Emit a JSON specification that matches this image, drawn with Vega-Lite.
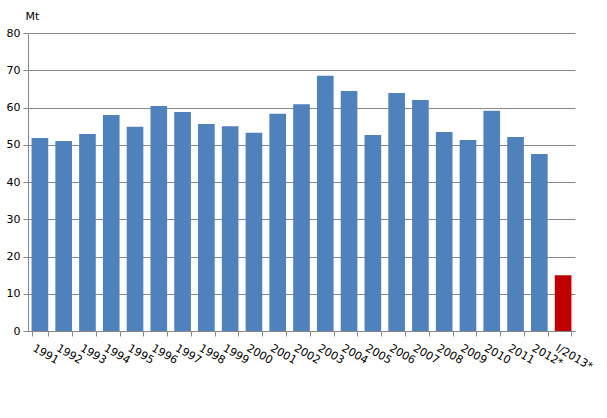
{
  "$schema": "https://vega.github.io/schema/vega-lite/v6.json",
  "autosize": "none",
  "width": 547,
  "height": 298,
  "padding": {"left": 28, "top": 33, "right": 32, "bottom": 87},
  "background": "white",
  "config": {
    "font": "DejaVu Sans",
    "view": {"stroke": null}
  },
  "data": {
    "values": [
      {"year": "1991", "value": 51.8, "type": "year"},
      {"year": "1992", "value": 51.0, "type": "year"},
      {"year": "1993", "value": 52.9, "type": "year"},
      {"year": "1994", "value": 58.0, "type": "year"},
      {"year": "1995", "value": 54.8, "type": "year"},
      {"year": "1996", "value": 60.4, "type": "year"},
      {"year": "1997", "value": 58.8, "type": "year"},
      {"year": "1998", "value": 55.6, "type": "year"},
      {"year": "1999", "value": 55.0, "type": "year"},
      {"year": "2000", "value": 53.2, "type": "year"},
      {"year": "2001", "value": 58.3, "type": "year"},
      {"year": "2002", "value": 60.9, "type": "year"},
      {"year": "2003", "value": 68.5, "type": "year"},
      {"year": "2004", "value": 64.4, "type": "year"},
      {"year": "2005", "value": 52.6, "type": "year"},
      {"year": "2006", "value": 63.9, "type": "year"},
      {"year": "2007", "value": 62.0, "type": "year"},
      {"year": "2008", "value": 53.4, "type": "year"},
      {"year": "2009", "value": 51.3, "type": "year"},
      {"year": "2010", "value": 59.1, "type": "year"},
      {"year": "2011", "value": 52.1, "type": "year"},
      {"year": "2012*", "value": 47.5, "type": "year"},
      {"year": "I/2013*", "value": 15.0, "type": "quarter"}
    ]
  },
  "mark": {"type": "bar"},
  "encoding": {
    "x": {
      "field": "year",
      "type": "nominal",
      "sort": null,
      "scale": {"paddingInner": 0.3, "paddingOuter": 0.15},
      "axis": {
        "title": null,
        "labelAngle": 30,
        "labelAlign": "left",
        "labelBaseline": "top",
        "labelFontSize": 11,
        "labelColor": "#000",
        "labelPadding": 6,
        "labelOffset": -4,
        "domainColor": "#888",
        "tickColor": "#888",
        "tickBand": "extent",
        "tickSize": 5,
        "grid": false
      }
    },
    "y": {
      "field": "value",
      "type": "quantitative",
      "scale": {"domain": [0, 80], "nice": false},
      "axis": {
        "values": [0, 10, 20, 30, 40, 50, 60, 70, 80],
        "title": "Mt",
        "titleAngle": 0,
        "titleAlign": "left",
        "titleBaseline": "middle",
        "titleX": -3,
        "titleY": -17,
        "titleFont": "DejaVu Sans",
        "titleFontSize": 11,
        "titleFontWeight": "normal",
        "titleColor": "#000",
        "labelFontSize": 11,
        "labelColor": "#000",
        "labelPadding": 3,
        "domainColor": "#888",
        "tickColor": "#888",
        "tickSize": 5,
        "gridColor": "#888",
        "gridOpacity": 1
      }
    },
    "color": {
      "field": "type",
      "type": "nominal",
      "scale": {"domain": ["year", "quarter"], "range": ["#4F81BD", "#C00000"]},
      "legend": null
    }
  }
}
